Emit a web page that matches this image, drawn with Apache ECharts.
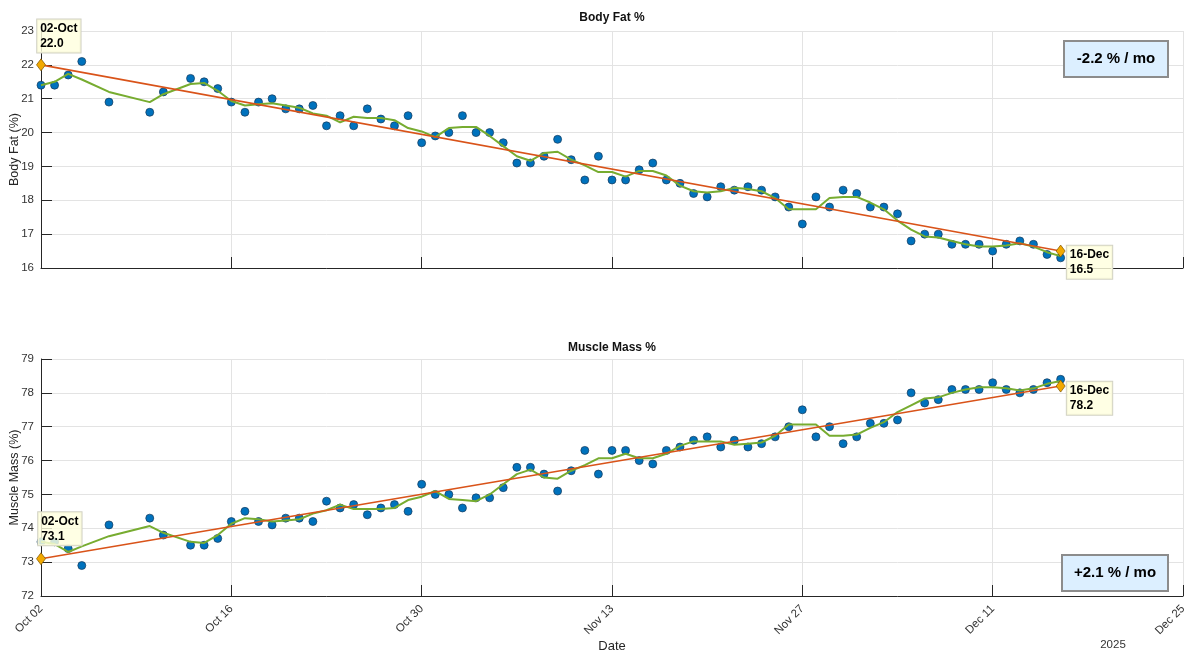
<!DOCTYPE html>
<html><head><meta charset="utf-8">
<script src="https://cdn.jsdelivr.net/npm/echarts@6/dist/echarts.min.js"></script>
<style>html,body{margin:0;padding:0;background:#fff}#c{width:1200px;height:657px}</style>
</head><body><div id="c"></div>
<script>
// ---- data ----
const dates = [
  '2025-10-02','2025-10-03','2025-10-04','2025-10-05','2025-10-07','2025-10-10','2025-10-11',
  '2025-10-13','2025-10-14','2025-10-15','2025-10-16','2025-10-17','2025-10-18','2025-10-19',
  '2025-10-20','2025-10-21','2025-10-22','2025-10-23','2025-10-24','2025-10-25','2025-10-26',
  '2025-10-27','2025-10-28','2025-10-29','2025-10-30','2025-10-31','2025-11-01','2025-11-02',
  '2025-11-03','2025-11-04','2025-11-05','2025-11-06','2025-11-07','2025-11-08','2025-11-09',
  '2025-11-10','2025-11-11','2025-11-12','2025-11-13','2025-11-14','2025-11-15','2025-11-16',
  '2025-11-17','2025-11-18','2025-11-19','2025-11-20','2025-11-21','2025-11-22','2025-11-23',
  '2025-11-24','2025-11-25','2025-11-26','2025-11-27','2025-11-28','2025-11-29','2025-11-30',
  '2025-12-01','2025-12-02','2025-12-03','2025-12-04','2025-12-05','2025-12-06','2025-12-07',
  '2025-12-08','2025-12-09','2025-12-10','2025-12-11','2025-12-12','2025-12-13','2025-12-14',
  '2025-12-15','2025-12-16'
];
const bodyFat = [
  21.4,21.4,21.7,22.1,20.9,20.6,21.2,
  21.6,21.5,21.3,20.9,20.6,20.9,21.0,
  20.7,20.7,20.8,20.2,20.5,20.2,20.7,
  20.4,20.2,20.5,19.7,19.9,20.0,20.5,
  20.0,20.0,19.7,19.1,19.1,19.3,19.8,
  19.2,18.6,19.3,18.6,18.6,18.9,19.1,
  18.6,18.5,18.2,18.1,18.4,18.3,18.4,
  18.3,18.1,17.8,17.3,18.1,17.8,18.3,
  18.2,17.8,17.8,17.6,16.8,17.0,17.0,
  16.7,16.7,16.7,16.5,16.7,16.8,16.7,
  16.4,16.3
];
const muscleMass = [
  73.6,73.6,73.4,72.9,74.1,74.3,73.8,
  73.5,73.5,73.7,74.2,74.5,74.2,74.1,
  74.3,74.3,74.2,74.8,74.6,74.7,74.4,
  74.6,74.7,74.5,75.3,75.0,75.0,74.6,
  74.9,74.9,75.2,75.8,75.8,75.6,75.1,
  75.7,76.3,75.6,76.3,76.3,76.0,75.9,
  76.3,76.4,76.6,76.7,76.4,76.6,76.4,
  76.5,76.7,77.0,77.5,76.7,77.0,76.5,
  76.7,77.1,77.1,77.2,78.0,77.7,77.8,
  78.1,78.1,78.1,78.3,78.1,78.0,78.1,
  78.3,78.4
];
const trendDates = ['2025-10-02','2025-12-16'];
const bodyFatTrend = [22.0, 16.5];
const muscleTrend = [73.1, 78.2];
const tipLabels = ['02-Oct','16-Dec'];
const xTickLabels = ['Oct 02','Oct 16','Oct 30','Nov 13','Nov 27','Dec 11','Dec 25'];
const slopeTexts = ['-2.2 % / mo','+2.1 % / mo'];
const yearLabel = '2025';

// ---- helpers ----
const t0 = Date.parse('2025-10-02');
const dayOf = s => Math.round((Date.parse(s) - t0) / 86400000);
const movmean3 = arr => arr.map((v, i) => {
  const a = arr.slice(Math.max(0, i - 1), Math.min(arr.length, i + 2));
  return a.reduce((s, x) => s + x, 0) / a.length;
});
const pts = vals => dates.map((d, i) => [dayOf(d), vals[i]]);
const ma = vals => { const m = movmean3(vals); return dates.map((d, i) => [dayOf(d), m[i]]); };
const trend = vals => trendDates.map((d, i) => [dayOf(d), vals[i]]);

const FONT = 'Helvetica, "Liberation Sans", Arial, sans-serif';
const GRID_C = '#e3e3e3';
const AX_C = '#262626';

function tipData(vals, pos) {
  return trendDates.map((d, i) => ({
    value: [dayOf(d), vals[i]],
    label: {
      show: true, position: pos[i], align: 'left', verticalAlign: 'top',
      formatter: tipLabels[i] + '\n' + vals[i].toFixed(1),
      fontFamily: FONT, fontSize: 12, fontWeight: 'bold', color: '#000', lineHeight: 15,
      backgroundColor: 'rgba(255,255,222,0.82)', borderColor: '#d2d2c4', borderWidth: 1,
      padding: [2, 3, 1, 3]
    }
  }));
}

function xAxisCfg(gridIndex, showLabels) {
  return {
    type: 'value', gridIndex, min: 0, max: 84, interval: 14,
    axisLine: { show: true, lineStyle: { color: AX_C, width: 1 } },
    axisTick: { show: true, inside: true, length: 11, lineStyle: { color: AX_C } },
    axisLabel: {
      show: showLabels, rotate: 45, margin: 11, fontFamily: FONT, fontSize: 11.5, color: '#333',
      formatter: v => xTickLabels[Math.round(v / 14)]
    },
    splitLine: { show: true, lineStyle: { color: GRID_C, width: 1 } },
    name: showLabels ? 'Date' : '', nameLocation: 'middle', nameGap: 44, nameMoveOverlap: false,
    nameTextStyle: { fontFamily: FONT, fontSize: 13, color: '#262626' }
  };
}
function yAxisCfg(gridIndex, min, max, name) {
  return {
    type: 'value', gridIndex, min, max, interval: 1,
    axisLine: { show: true, lineStyle: { color: AX_C, width: 1 } },
    axisTick: { show: true, inside: true, length: 11, lineStyle: { color: AX_C } },
    axisLabel: { margin: 7, fontFamily: FONT, fontSize: 11.5, color: '#333' },
    splitLine: { show: true, lineStyle: { color: GRID_C, width: 1 } },
    name, nameLocation: 'middle', nameGap: 20, nameRotate: 90, nameMoveOverlap: false,
    nameTextStyle: { fontFamily: FONT, fontSize: 12.5, color: '#262626' }
  };
}
function seriesFor(idx, vals, tr, tipPos) {
  return [
    { type: 'scatter', xAxisIndex: idx, yAxisIndex: idx, data: pts(vals), symbolSize: 8, z: 2,
      itemStyle: { color: '#0072BD', borderColor: '#173a5a', borderWidth: 0.7, opacity: 1 } },
    { type: 'line', xAxisIndex: idx, yAxisIndex: idx, data: ma(vals), showSymbol: false, z: 3,
      lineStyle: { color: '#77AC30', width: 2 } },
    { type: 'line', xAxisIndex: idx, yAxisIndex: idx, data: trend(tr), showSymbol: false, z: 4,
      lineStyle: { color: '#D95319', width: 1.6 } },
    { type: 'scatter', xAxisIndex: idx, yAxisIndex: idx, data: tipData(tr, tipPos), symbol: 'diamond',
      symbolSize: [9, 12], z: 6,
      itemStyle: { color: '#F2A900', borderColor: '#7a5200', borderWidth: 0.7, opacity: 1 } }
  ];
}

function slopeBox(x, y, w, h, text) {
  return [
    { type: 'rect', shape: { x, y, width: w, height: h }, z: 100,
      style: { fill: '#dcefff', stroke: '#8c8c8c', lineWidth: 2 } },
    { type: 'text', x: x + w / 2, y: y + h / 2, z: 101,
      style: { text, fontFamily: FONT, fontSize: 15, fontWeight: 'bold', fill: '#000',
        align: 'center', verticalAlign: 'middle' } }
  ];
}

const chart = echarts.init(document.getElementById('c'), null, { renderer: 'canvas' });
chart.setOption({
  animation: false,
  backgroundColor: '#fff',
  grid: [
    { left: 41, right: 17, top: 31, height: 237, containLabel: false, outerBoundsMode: 'none' },
    { left: 41, right: 17, top: 359, height: 237, containLabel: false, outerBoundsMode: 'none' }
  ],
  xAxis: [xAxisCfg(0, false), xAxisCfg(1, true)],
  yAxis: [yAxisCfg(0, 16, 23, 'Body Fat (%)'), yAxisCfg(1, 72, 79, 'Muscle Mass (%)')],
  series: [
    ...seriesFor(0, bodyFat, bodyFatTrend, [[1, -39], [11, 1]]),
    ...seriesFor(1, muscleMass, muscleTrend, [[2, -40], [11, 2]])
  ],
  graphic: [
    { type: 'text', x: 612, y: 18, style: { text: 'Body Fat %', fontFamily: FONT, fontSize: 12,
        fontWeight: 'bold', fill: '#111', align: 'center', verticalAlign: 'middle' } },
    { type: 'text', x: 612, y: 348, style: { text: 'Muscle Mass %', fontFamily: FONT, fontSize: 12,
        fontWeight: 'bold', fill: '#111', align: 'center', verticalAlign: 'middle' } },
    { type: 'text', x: 1113, y: 645, style: { text: yearLabel, fontFamily: FONT, fontSize: 11.5,
        fill: '#333', align: 'center', verticalAlign: 'middle' } },
    ...slopeBox(1064, 41, 104, 36, slopeTexts[0]),
    ...slopeBox(1062, 555, 106, 36, slopeTexts[1])
  ]
});
</script>
</body></html>
